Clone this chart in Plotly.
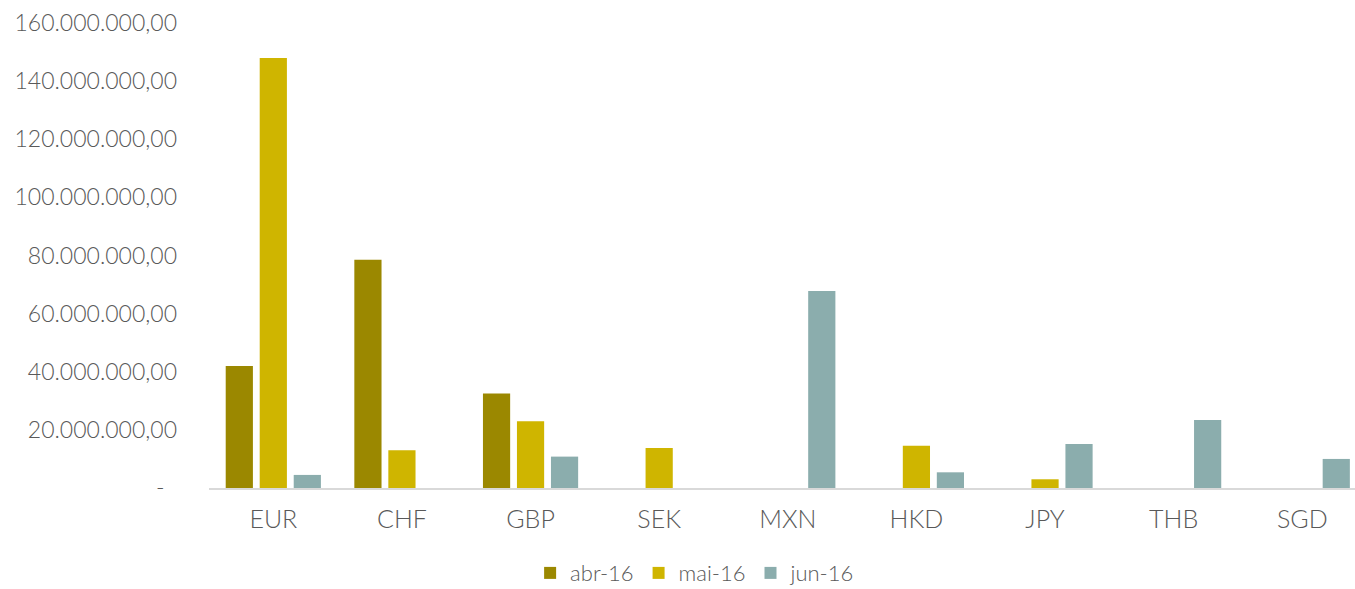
import plotly.graph_objects as go

categories = ["EUR", "CHF", "GBP", "SEK", "MXN", "HKD", "JPY", "THB", "SGD"]
abr_16 = [42_000_000, 78_500_000, 32_500_000, None, None, None, None, None, None]
mai_16 = [148_000_000, 13_000_000, 23_000_000, 13_800_000, None, 14_500_000, 3_000_000, None, None]
jun_16 = [4_500_000, None, 10_800_000, None, 67_800_000, 5_400_000, 15_100_000, 23_400_000, 10_000_000]
series_names = ["abr-16", "mai-16", "jun-16"]
tick_vals = [0, 20e6, 40e6, 60e6, 80e6, 100e6, 120e6, 140e6, 160e6]
tick_text = ["-  ", "20.000.000,00", "40.000.000,00", "60.000.000,00", "80.000.000,00",
             "100.000.000,00", "120.000.000,00", "140.000.000,00", "160.000.000,00"]

colors = ["#9B8800", "#CFB500", "#8BADAD"]
font = "Lato, 'Open Sans', sans-serif"

fig = go.Figure()
for name, vals, c in zip(series_names, [abr_16, mai_16, jun_16], colors):
    fig.add_trace(go.Bar(x=categories, y=vals, name=name, marker_color=c,
                         marker_line_width=0))

fig.update_layout(
    width=1355, height=589,
    margin=dict(l=209, r=0, t=23, b=101, autoexpand=False),
    plot_bgcolor="white", paper_bgcolor="white",
    barmode="group", bargap=0.207, bargroupgap=0.2,
    font=dict(family=font, size=23, color="#595959", weight=300),
    showlegend=True,
    legend=dict(orientation="h", xref="container", yref="container",
                x=0.513, xanchor="center", y=0.027, yanchor="middle",
                font=dict(size=22, color="#595959", weight=300), itemwidth=30,
                traceorder="normal", borderwidth=0),
    xaxis=dict(range=[-0.5, 8.41], showline=True, linecolor="#d9d9d9", linewidth=2,
               showgrid=False, ticks="", tickfont=dict(size=25, weight=300),
               automargin=False, ticklabelstandoff=8),
    yaxis=dict(range=[0, 160e6], tickvals=tick_vals, ticktext=tick_text,
               showgrid=False, zeroline=False, showline=False, automargin=False,
               ticklabelstandoff=31, tickfont=dict(size=23, weight=300)),
)

fig.write_html("out.html", post_script="document.body.style.margin='0';",
               config={"displayModeBar": False})
